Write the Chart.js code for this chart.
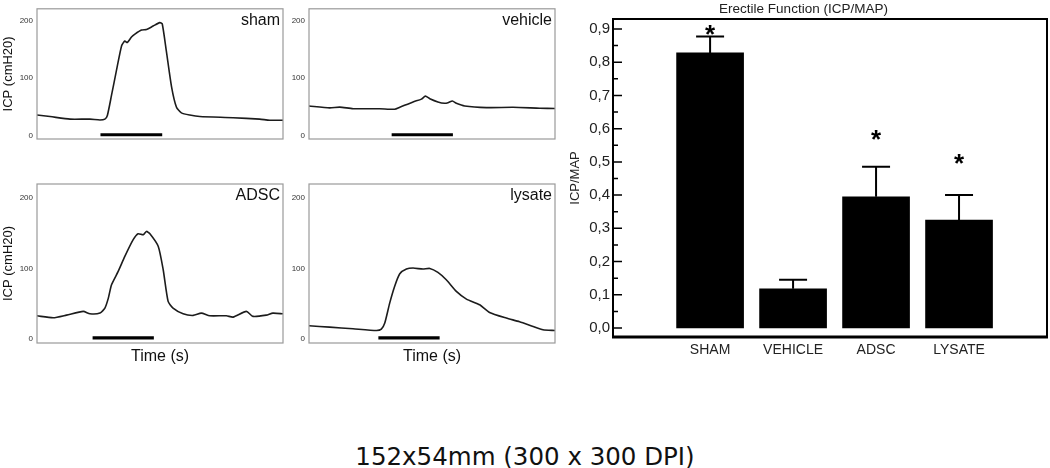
<!DOCTYPE html>
<html lang="en">
<head>
<meta charset="UTF-8" />
<title>ICP traces and erectile function</title>
<script src="https://cdn.jsdelivr.net/npm/chart.js"></script>
<style>
  body { margin: 0; background: #fff; width: 1050px; height: 468px; position: relative; overflow: hidden; }
  canvas { position: absolute; }
  #caption { position: absolute; left: 0; width: 1050px; top: 443px; line-height: 28px; text-align: center; font-family: "DejaVu Sans", Verdana, sans-serif; font-size: 24.5px; color: #111; }
</style>
</head>
<body>
<canvas id="sham" width="286" height="169" style="left:0;top:0"></canvas>
<canvas id="vehicle" width="272" height="169" style="left:286px;top:0"></canvas>
<canvas id="adsc" width="286" height="198" style="left:0;top:170px"></canvas>
<canvas id="lysate" width="272" height="198" style="left:286px;top:170px"></canvas>
<canvas id="bars" width="490" height="362" style="left:560px;top:0"></canvas>
<div id="caption">152x54mm (300 x 300 DPI)</div>

<script>
// ICP traces (time in % of the recording window, ICP in cmH2O)
const shamTime = [0, 5.3, 13.4, 21.5, 25.6, 27.6, 28.6, 30.3, 32.3, 34.4, 35.7, 36.7, 38.4, 39.8, 42.5, 44.5, 47.2, 49.9, 50.9, 52.6, 54.7, 56.7, 58.7, 62.1, 66.2, 79.7, 90.5, 94.6, 100];
const shamIcp = [35.6, 33, 28.5, 28.5, 27, 28.5, 34.7, 70, 113, 156, 164, 161.5, 171, 176, 183, 184, 190, 196, 194, 146, 84.5, 49, 39.4, 35.6, 33, 31, 28.5, 26.6, 26.6];
const shamStim = [25.8, 50.9];

const vehicleTime = [0, 8.4, 12.5, 17.9, 28.7, 34.8, 36.9, 42.3, 45.7, 47.3, 49.1, 52.4, 55.1, 56.5, 58.3, 59.9, 63.3, 72.1, 82.9, 93.8, 100];
const vehicleIcp = [51.3, 48, 49.4, 46.6, 46.6, 45.6, 49, 58.4, 63.2, 68.4, 64, 58.4, 56, 57, 60, 56, 51.3, 48.5, 49, 47.5, 47];
const vehicleStim = [33.6, 58.5];

const adscTime = [0, 6.6, 12.0, 18.8, 21.5, 25.6, 27.6, 29.0, 30.3, 33.0, 35.7, 39.1, 41.1, 43.2, 44.5, 45.9, 49.3, 51.3, 53.3, 55.3, 59.4, 63.5, 66.8, 70.2, 77.0, 79.7, 85.1, 87.8, 93.2, 95.9, 100];
const adscIcp = [32.7, 29.9, 33.6, 38.9, 35.5, 36.5, 43.6, 57.8, 76.8, 95.7, 117, 140.8, 149.3, 147.9, 152.6, 149.3, 131.3, 98.1, 53.1, 43.6, 35.5, 33.2, 36.5, 32.7, 32.7, 30.8, 38.9, 31.8, 33.6, 36.5, 35.5];
const adscStim = [22.6, 47.5];

const lysateTime = [0, 8.4, 17.9, 27.4, 29.4, 30.8, 32.8, 34.8, 36.9, 39.6, 42.3, 46.3, 49.1, 52.4, 55.8, 59.9, 64.0, 69.4, 73.4, 80.2, 85.6, 91.1, 95.1, 100];
const lysateIcp = [18.5, 16.6, 14.2, 11.8, 13.7, 22.3, 50.7, 74.4, 92.4, 99.1, 100.5, 99.1, 100, 94.3, 83.9, 67.3, 56.4, 48.3, 37.4, 29.4, 24.2, 17.5, 12.8, 11.8];
const lysateStim = [28.2, 53.1];

const stimLevel = 1.4;
const traceTicks = [0, 100, 200];

// Erectile function bar chart
const groups = ['SHAM', 'VEHICLE', 'ADSC', 'LYSATE'];
const ratio = [0.828, 0.118, 0.395, 0.325];
const ratioSem = [0.049, 0.027, 0.09, 0.075];
const starLevel = [0.903, null, 0.588, 0.516];
const ratioTicks = [0, 0.1, 0.2, 0.3, 0.4, 0.5, 0.6, 0.7, 0.8, 0.9];
const ratioMinorTicks = [0.05, 0.15, 0.25, 0.35, 0.45, 0.55, 0.65, 0.75, 0.85];

const framePlugin = {
  id: 'panelFrame',
  afterDraw(chart, args, opts) {
    const { ctx, chartArea: a } = chart;
    ctx.save();
    ctx.strokeStyle = '#9a9a9a';
    ctx.lineWidth = 1.2;
    ctx.strokeRect(a.left, a.top, a.right - a.left, a.bottom - a.top);
    ctx.fillStyle = '#111';
    ctx.font = '16px Arial, "Liberation Sans"';
    ctx.textAlign = 'right';
    ctx.fillText(opts.label, a.right - 3, a.top + 16);
    ctx.restore();
  }
};

function tracePanel(id, label, time, icp, stim, o) {
  new Chart(document.getElementById(id), {
    type: 'line',
    data: {
      datasets: [
        { data: time.map((t, i) => ({ x: t, y: icp[i] })), borderColor: '#1c1c1c', borderWidth: 1.6, pointRadius: 0, tension: 0.2 },
        { data: stim.map(t => ({ x: t, y: stimLevel })), borderColor: '#000', borderWidth: 3.2, pointRadius: 0 }
      ]
    },
    options: {
      responsive: false,
      animation: false,
      devicePixelRatio: 1,
      layout: { padding: { top: o.padTop, right: 3, bottom: o.padBottom } },
      plugins: { legend: { display: false }, tooltip: { enabled: false }, panelFrame: { label: label } },
      scales: {
        x: {
          type: 'linear', min: 0, max: 100, display: o.showTime,
          grid: { display: false }, border: { display: false }, ticks: { display: false },
          title: { display: true, text: 'Time (s)', color: '#111', font: { size: 16, family: 'Arial' }, padding: { top: 0, bottom: 1.4 } },
          afterFit: s => { s.height = 25; }
        },
        y: {
          min: -6, max: 220,
          afterBuildTicks: s => { s.ticks = traceTicks.map(v => ({ value: v })); },
          grid: { display: false, drawTicks: false }, border: { display: false },
          ticks: { color: '#333', font: { size: 8, family: 'Arial' }, padding: 4 },
          title: { display: o.showIcp, text: 'ICP (cmH20)', color: '#111', font: { size: 13, family: 'Arial' }, padding: { top: 1, bottom: 0 } },
          afterFit: s => { s.width = o.axisWidth; }
        }
      }
    },
    plugins: [framePlugin]
  });
}

tracePanel('sham', 'sham', shamTime, shamIcp, shamStim, { padTop: 5, padBottom: 5, showTime: false, showIcp: true, axisWidth: 37 });
tracePanel('vehicle', 'vehicle', vehicleTime, vehicleIcp, vehicleStim, { padTop: 5, padBottom: 5, showTime: false, showIcp: false, axisWidth: 23 });
tracePanel('adsc', 'ADSC', adscTime, adscIcp, adscStim, { padTop: 14, padBottom: 0, showTime: true, showIcp: true, axisWidth: 37 });
tracePanel('lysate', 'lysate', lysateTime, lysateIcp, lysateStim, { padTop: 14, padBottom: 0, showTime: true, showIcp: false, axisWidth: 23 });

const barDecor = {
  id: 'barDecor',
  afterDatasetsDraw(chart) {
    const { ctx, chartArea: a, scales: { x, y } } = chart;
    ctx.save();
    ctx.strokeStyle = '#000';
    ctx.fillStyle = '#000';
    ctx.lineWidth = 2;
    groups.forEach((g, i) => {
      const cx = x.getPixelForValue(i + 1);
      const base = y.getPixelForValue(ratio[i]);
      const top = y.getPixelForValue(ratio[i] + ratioSem[i]);
      ctx.beginPath();
      ctx.moveTo(cx, base); ctx.lineTo(cx, top);
      ctx.moveTo(cx - 14, top); ctx.lineTo(cx + 14, top);
      ctx.stroke();
      if (starLevel[i] !== null) {
        ctx.font = 'bold 26px Arial, "Liberation Sans"';
        ctx.textAlign = 'center';
        ctx.fillText('*', cx, y.getPixelForValue(starLevel[i]) + 15);
      }
    });
    // inward ticks
    ctx.lineWidth = 1.5;
    ctx.beginPath();
    ratioTicks.forEach(v => { const py = y.getPixelForValue(v); ctx.moveTo(a.left, py); ctx.lineTo(a.left + 9, py); });
    ratioMinorTicks.forEach(v => { const py = y.getPixelForValue(v); ctx.moveTo(a.left, py); ctx.lineTo(a.left + 5, py); });
    ctx.stroke();
    // frame
    ctx.lineWidth = 2;
    ctx.strokeRect(a.left, a.top, a.right - a.left, a.bottom - a.top);
    ctx.lineWidth = 3;
    ctx.beginPath(); ctx.moveTo(a.left - 1, a.bottom); ctx.lineTo(a.right + 1, a.bottom); ctx.stroke();
    ctx.restore();
  }
};

new Chart(document.getElementById('bars'), {
  type: 'bar',
  data: {
    datasets: [{
      data: groups.map((g, i) => ({ x: i + 1, y: ratio[i] })),
      backgroundColor: '#000',
      barThickness: 67
    }]
  },
  options: {
    responsive: false,
    animation: false,
    devicePixelRatio: 1,
    layout: { padding: { top: 0, right: 3, left: 0, bottom: 0 } },
    plugins: {
      legend: { display: false },
      tooltip: { enabled: false },
      title: { display: true, text: 'Erectile Function (ICP/MAP)', color: '#222', font: { size: 13.5, family: 'Arial', weight: 'normal' }, padding: { top: 1, bottom: 1.8 } }
    },
    scales: {
      x: {
        type: 'linear', min: -0.17, max: 5.06, offset: false,
        afterBuildTicks: s => { s.ticks = groups.map((g, i) => ({ value: i + 1 })); },
        grid: { display: false, drawTicks: false, offset: false }, border: { display: false },
        ticks: { callback: v => groups[v - 1], color: '#222', font: { size: 14, family: 'Arial' }, padding: 5, maxRotation: 0, autoSkip: false },
        afterFit: s => { s.height = 25; }
      },
      y: {
        min: -0.027, max: 0.93,
        afterBuildTicks: s => { s.ticks = ratioTicks.map(v => ({ value: v })); },
        grid: { display: false, drawTicks: false }, border: { display: false },
        ticks: { callback: v => v.toFixed(1).replace('.', ','), color: '#222', font: { size: 15, family: 'Arial' }, padding: 3 },
        title: { display: true, text: 'ICP/MAP', color: '#222', font: { size: 13, family: 'Arial' }, padding: { top: 8, bottom: 0 } },
        afterFit: s => { s.width = 53; }
      }
    }
  },
  plugins: [barDecor]
});
</script>
</body>
</html>
